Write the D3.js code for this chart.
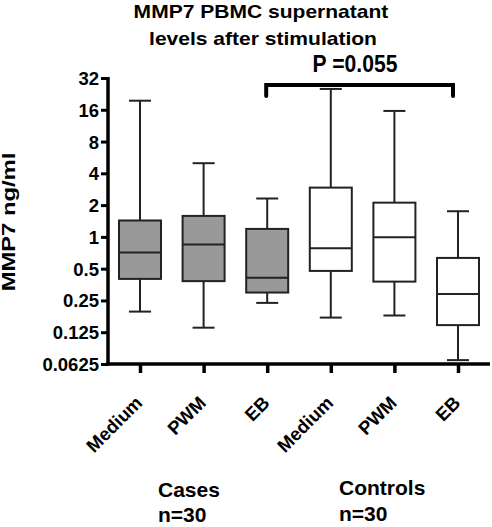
<!DOCTYPE html>
<html><head><meta charset="utf-8">
<script src="https://cdn.jsdelivr.net/npm/d3@7/dist/d3.min.js"></script>
<style>body{margin:0;background:#fff}svg{display:block}text{font-family:"Liberation Sans",Arial,sans-serif;font-weight:bold;fill:#000}</style>
</head><body><svg id="c" width="492" height="527"></svg>
<script>
const categories = ["Medium","PWM","EB","Medium","PWM","EB"];
const groups = ["case","case","case","control","control","control"];
const whiskerLow  = [0.196, 0.138, 0.237, 0.172, 0.180, 0.068];
const q1          = [0.40, 0.381, 0.297, 0.476, 0.377, 0.146];
const median      = [0.71, 0.846, 0.41, 0.78, 0.99, 0.287];
const q3          = [1.43, 1.58, 1.19, 2.93, 2.11, 0.632];
const whiskerHigh = [19.5, 4.99, 2.31, 25.2, 15.6, 1.75];
const yTicks = [0.0625,0.125,0.25,0.5,1,2,4,8,16,32];
const yTickLabels = ["0.0625","0.125","0.25","0.5","1","2","4","8","16","32"];

const svg = d3.select("#c");
const y = d3.scaleLog().base(2).domain([0.0625,32]).range([364,78]);
const x = d3.scalePoint().domain(d3.range(6)).range([140,458]);

// title
svg.append("text").attr("transform","translate(261,18) scale(1.12,1)").attr("text-anchor","middle").style("font-size","18.8px").text("MMP7 PBMC supernatant");
svg.append("text").attr("transform","translate(263,45) scale(1.12,1)").attr("text-anchor","middle").style("font-size","18.8px").text("levels after stimulation");

// y axis
const yAxis = d3.axisLeft(y).tickValues(yTicks).tickFormat((d,i)=>yTickLabels[i]).tickSize(7).tickPadding(2);
const gy = svg.append("g").attr("transform","translate(108,0)").call(yAxis);
gy.select(".domain").attr("stroke","#000").attr("stroke-width",3.5).attr("d","M0,77V365.5");
gy.selectAll(".tick line").attr("stroke","#000").attr("stroke-width",3);
gy.selectAll(".tick text").style("font-size","18.5px").attr("dy","0.35em");

// x axis
const xAxis = d3.axisBottom(x).tickSize(9).tickFormat("");
const gx = svg.append("g").attr("transform","translate(0,364)").call(xAxis);
gx.select(".domain").attr("stroke","#000").attr("stroke-width",3.5).attr("d","M106,0H490");
gx.selectAll(".tick line").attr("stroke","#000").attr("stroke-width",3.5);
gx.selectAll(".tick").append("text").attr("transform","translate(3,40) rotate(-45)").attr("text-anchor","end").attr("fill","#000").style("font-size","18.5px").text((d,i)=>categories[i]);

// y title
svg.append("text").attr("transform","translate(15,222) rotate(-90) scale(1,0.75)").attr("text-anchor","middle").style("font-size","23.8px").text("MMP7 ng/ml");

// boxes
const bw = 42, cw = 22;
const g = svg.append("g");
d3.range(6).forEach(i=>{
  const cx = x(i);
  const s = g.append("g").attr("stroke","#222").attr("stroke-width",2);
  s.append("line").attr("x1",cx).attr("x2",cx).attr("y1",y(whiskerHigh[i])).attr("y2",y(q3[i]));
  s.append("line").attr("x1",cx).attr("x2",cx).attr("y1",y(q1[i])).attr("y2",y(whiskerLow[i]));
  s.append("line").attr("x1",cx-cw/2).attr("x2",cx+cw/2).attr("y1",y(whiskerHigh[i])).attr("y2",y(whiskerHigh[i]));
  s.append("line").attr("x1",cx-cw/2).attr("x2",cx+cw/2).attr("y1",y(whiskerLow[i])).attr("y2",y(whiskerLow[i]));
  s.append("rect").attr("x",cx-bw/2).attr("width",bw).attr("y",y(q3[i])).attr("height",y(q1[i])-y(q3[i]))
    .attr("fill",groups[i]==="case"?"#999999":"#ffffff");
  s.append("line").attr("x1",cx-bw/2).attr("x2",cx+bw/2).attr("y1",y(median[i])).attr("y2",y(median[i]));
});

// significance bracket
svg.append("path").attr("d",`M${x(2)-1},96V85H${x(5)-5}V96`).attr("fill","none").attr("stroke","#000").attr("stroke-width",4).attr("stroke-linecap","round");
svg.append("text").attr("transform","translate(355,72) scale(0.92,1)").attr("text-anchor","middle").style("font-size","23px").text("P =0.055");

// group labels
svg.append("text").attr("x",158).attr("y",497).style("font-size","21px").text("Cases");
svg.append("text").attr("x",158).attr("y",522).style("font-size","21px").text("n=30");
svg.append("text").attr("x",339).attr("y",495).style("font-size","21px").text("Controls");
svg.append("text").attr("x",339).attr("y",521).style("font-size","21px").text("n=30");
</script></body></html>
